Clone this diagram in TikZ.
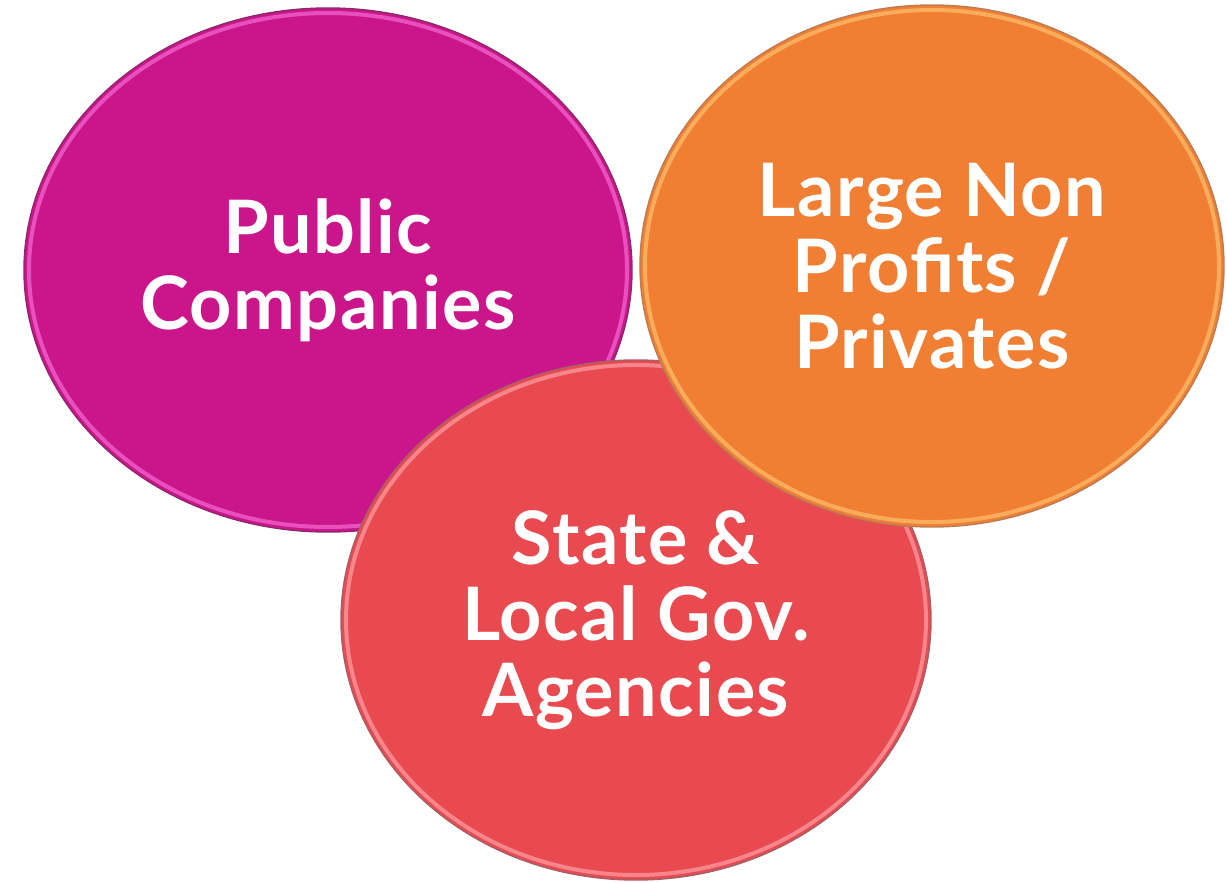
\documentclass[tikz,border=0pt]{standalone}
\usepackage{fontspec}
\setmainfont{Lato}
\usetikzlibrary{shapes.geometric}

\definecolor{magfill}{RGB}{203,22,139}
\definecolor{magedge}{RGB}{140,40,105}
\definecolor{magshine}{RGB}{252,120,225}
\definecolor{orfill}{RGB}{240,127,51}
\definecolor{oredge}{RGB}{185,125,85}
\definecolor{orshine}{RGB}{255,205,120}
\definecolor{redfill}{RGB}{233,74,80}
\definecolor{rededge}{RGB}{165,95,105}
\definecolor{redshine}{RGB}{255,175,180}

\tikzset{
  bubble/.style={ellipse, inner sep=0pt, line width=1.4bp,
    text=white, align=center,
    font=\bfseries\fontsize{74}{76}\selectfont\addfontfeatures{LetterSpace=2}},
  shine/.style={line width=4bp, opacity=0.6}
}

\begin{document}
\begin{tikzpicture}[x=1bp, y=-1bp]
  \useasboundingbox (0,0) rectangle (1227,883);

  % back bubble
  \node[bubble, draw=magedge, fill=magfill,
        minimum width=608bp, minimum height=524bp] (pub) at (328,270)
        {Public\\Companies};
  \draw[shine, magshine] (pub.center) ellipse [x radius=299bp, y radius=257bp];

  % lower bubble
  \node[bubble, draw=rededge, fill=redfill,
        minimum width=590bp, minimum height=520bp] (gov) at (636,620)
        {State \&\\Local Gov.\\Agencies};
  \draw[shine, redshine] (gov.center) ellipse [x radius=290bp, y radius=255bp];

  % front bubble
  \node[bubble, draw=oredge, fill=orfill,
        minimum width=584bp, minimum height=522bp] (npo) at (932,266)
        {Large Non\\Profits /\\Privates};
  \draw[shine, orshine] (npo.center) ellipse [x radius=287bp, y radius=256bp];
\end{tikzpicture}
\end{document}
